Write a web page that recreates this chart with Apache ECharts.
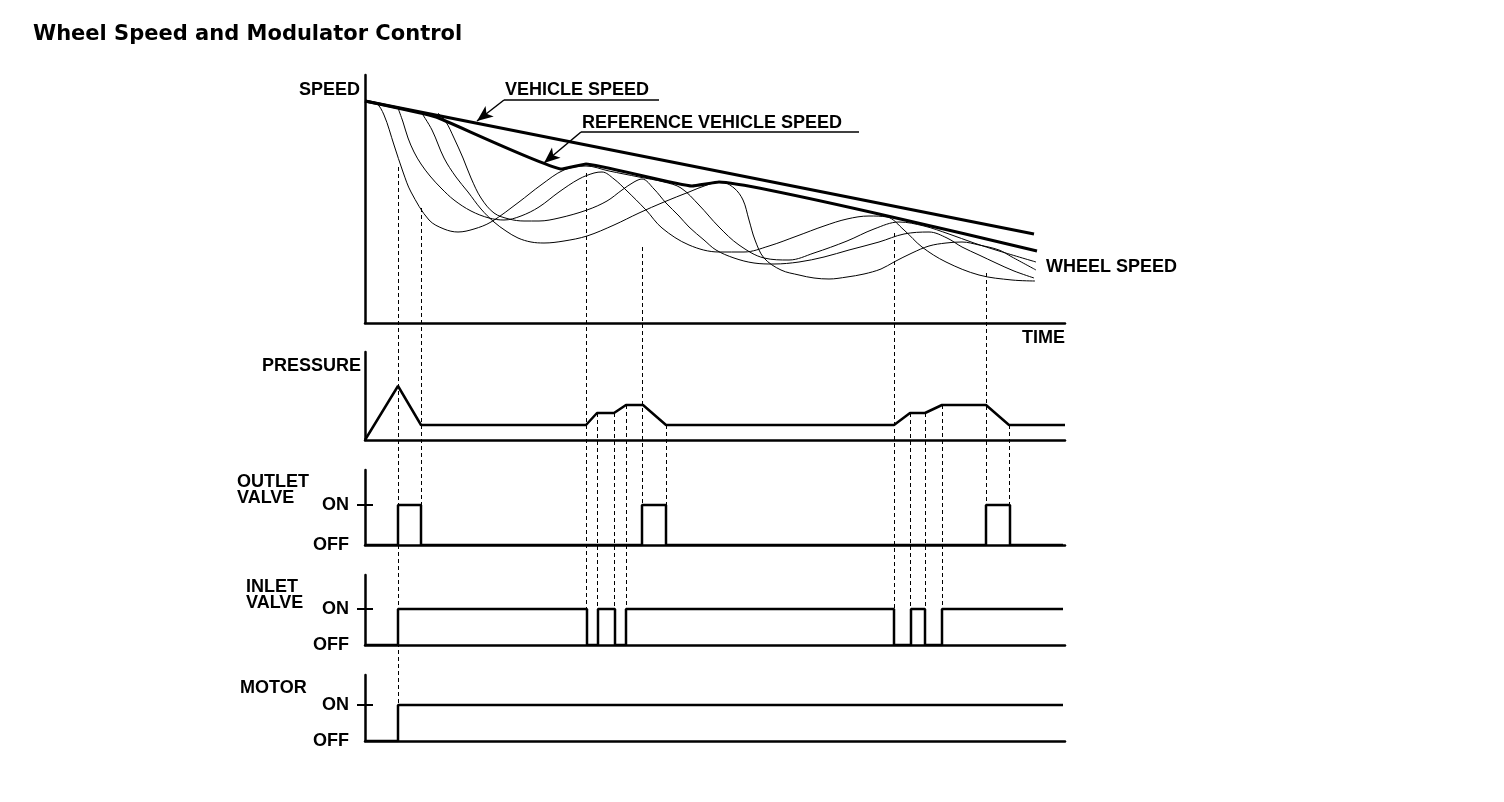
<!DOCTYPE html>
<html><head><meta charset="utf-8">
<script src="https://cdn.jsdelivr.net/npm/echarts@6/dist/echarts.min.js"></script>
<style>html,body{margin:0;padding:0;background:#fff}#c{width:1504px;height:802px}</style>
</head><body><div id="c"></div>
<script>
// time axis units (0..700), speed units (0..248)
const vehicleSpeed = [[0,222],[669,89]];
const referenceSpeed = [[0,222],[71,206],[197,154],[221,159],[327,137],[354,141],[672,72]];
const wheel1 = [[0,222],[11,220],[19,208],[29,178],[38,151],[46,131],[64,103],[79,94],[93,91],[109,94],[126,101],[154,121],[176,138],[199,153],[221,157],[244,152],[274,146],[299,141],[316,135],[334,118],[354,96],[374,78],[399,65],[424,63],[449,70],[482,82],[509,94],[534,101],[559,97],[584,89],[609,80],[634,72],[671,61]];
const wheel2 = [[33,215],[38,201],[43,185],[49,171],[56,159],[65,147],[76,135],[89,123],[106,112],[124,105],[139,103],[156,107],[174,116],[194,131],[214,144],[229,150],[237,151],[249,144],[261,133],[281,113],[297,95],[324,78],[354,71],[379,71],[404,77],[432,87],[459,97],[482,104],[504,107],[522,106],[539,93],[557,76],[581,61],[614,48],[647,43],[670,42]];
const wheel3 = [[56,211],[67,193],[79,165],[91,146],[103,131],[116,114],[129,101],[141,92],[153,85],[166,81],[179,80],[199,82],[222,87],[249,98],[274,110],[299,121],[324,131],[342,138],[356,141],[369,135],[378,123],[384,103],[390,83],[399,65],[416,53],[434,48],[449,45],[464,44],[482,46],[499,49],[516,54],[529,61],[547,70],[564,77],[581,80],[597,81],[614,78],[634,73],[647,66],[671,53]];
const wheel4 = [[73,210],[81,201],[89,185],[98,165],[106,145],[116,125],[129,110],[144,104],[159,102],[174,102],[194,105],[222,113],[242,122],[257,133],[269,141],[277,144],[289,134],[301,120],[314,107],[324,96],[339,83],[351,73],[369,65],[389,60],[409,59],[434,61],[459,66],[484,73],[514,81],[539,89],[564,91],[582,85],[597,76],[614,68],[631,60],[649,52],[669,45]];
const pressure = [[0,0],[33,54],[56,15],[221,15],[232,27],[249,27],[261,35],[278,35],[301,15],[529,15],[545,27],[560,27],[577,35],[621,35],[644,15],[700,15]];
const outletValve = [[0,0],[33,0],[33,1],[56,1],[56,0],[277,0],[277,1],[301,1],[301,0],[621,0],[621,1],[645,1],[645,0],[698,0]];
const inletValve = [[0,0],[33,0],[33,1],[222,1],[222,0],[233,0],[233,1],[250,1],[250,0],[261,0],[261,1],[529,1],[529,0],[546,0],[546,1],[560,1],[560,0],[577,0],[577,1],[698,1]];
const motorState = [[0,0],[33,0],[33,1],[698,1]];
// dashed guide lines: [time, top panel, top value, bottom panel, bottom value]
const guides = [[33,0,156,4,1],[56,0,115,2,1],[221,0,150,3,1],[232,1,27,3,1],[249,1,27,3,1],[261,1,35,3,1],[277,0,76,2,1],[301,1,15,2,1],[529,0,90,3,1],[545,1,27,3,1],[560,1,27,3,1],[577,1,35,3,1],[621,0,50,2,1],[644,1,15,2,1]];

const K = '#000';
const LBL = 'bold 18px "Liberation Sans", Arial, sans-serif';
const gridDefs = [[75,248],[352,88],[470,75],[575,70],[675,66]];
const yMax = [248, 88, 75/40, 70/36, 66/36];

const chart = echarts.init(document.getElementById('c'), null, {renderer:'canvas'});
const grids = gridDefs.map(g => ({left:365, width:700, top:g[0], height:g[1], outerBoundsMode:'none', containLabel:false}));
const xAxes = gridDefs.map((g,i) => ({type:'value', gridIndex:i, min:0, max:700,
  axisLine:{show:true, onZero:false, lineStyle:{color:K, width:2.5}}, axisTick:{show:false}, axisLabel:{show:false}, splitLine:{show:false}}));
const yAxes = gridDefs.map((g,i) => {
  const onoff = i >= 2;
  return {type:'value', gridIndex:i, min:0, max:yMax[i],
    axisLine:{show:true, onZero:false, lineStyle:{color:K, width:2.5}},
    splitLine:{show:false},
    axisTick: onoff ? {show:true, length:8, customValues:[1], lineStyle:{color:K, width:2}} : {show:false},
    axisLabel: onoff ? {show:true, customValues:[0,1], margin:16, color:K, fontFamily:'Liberation Sans', fontWeight:'bold', fontSize:18,
      formatter: v => v === 1 ? 'ON' : (v === 0 ? 'OFF' : '')} : {show:false}};
});

function ln(data, i, w, smooth){
  return {type:'line', xAxisIndex:i, yAxisIndex:i, data:data, symbol:'none', smooth:smooth||false,
    lineStyle:{color:K, width:w}, silent:true, animation:false};
}
const arrowLine = (a,b) => [{coord:a, symbol:'none'},{coord:b, symbol:'arrow', symbolSize:[10,16]}];
const plainLine = (a,b) => [{coord:a, symbol:'none'},{coord:b, symbol:'none'}];

const vehicleSeries = ln(vehicleSpeed,0,3);
vehicleSeries.markLine = {silent:true, animation:false, label:{show:false}, lineStyle:{color:K, width:1.5, type:'solid'},
  data:[arrowLine([139,223],[112,202]), plainLine([139,223],[294,223]), arrowLine([216,191],[179,160]), plainLine([216,191],[494,191])]};

const series = [
  ln(wheel1,0,1,0.35), ln(wheel2,0,1,0.35), ln(wheel3,0,1,0.35), ln(wheel4,0,1,0.35),
  vehicleSeries,
  ln(referenceSpeed,0,3,0.1),
  ln(pressure,1,2.5),
  ln(outletValve,2,2.5),
  ln(inletValve,3,2.5),
  ln(motorState,4,2.5)
];

chart.setOption({animation:false, backgroundColor:'#fff', grid:grids, xAxis:xAxes, yAxis:yAxes, series:series});

function txt(t,x,y,align,font){
  return {type:'text', x:x, y:y, silent:true, style:{text:t, font:font||LBL, fill:K, textAlign:align||'left', textVerticalAlign:'middle'}};
}
const gfx = [
  txt('Wheel Speed and Modulator Control',33,35,'left','bold 21px "DejaVu Sans", sans-serif'),
  txt('SPEED',360,90,'right'),
  txt('VEHICLE SPEED',505,90),
  txt('REFERENCE VEHICLE SPEED',582,123),
  txt('WHEEL SPEED',1046,267),
  txt('TIME',1022,338),
  txt('PRESSURE',361,366,'right'),
  txt('OUTLET',237,482), txt('VALVE',237,498),
  txt('INLET',246,587), txt('VALVE',246,603),
  txt('MOTOR',240,688)
];
guides.forEach(g => {
  const p1 = chart.convertToPixel({gridIndex:g[1]}, [g[0], g[2]]);
  const p2 = chart.convertToPixel({gridIndex:g[3]}, [g[0], g[4]]);
  const x = Math.round(p1[0]) + 0.5;
  gfx.push({type:'line', silent:true, z:-1, shape:{x1:x, y1:p1[1], x2:x, y2:p2[1]}, style:{stroke:K, lineWidth:1, lineDash:[4,3]}});
});
[2,3,4].forEach(i => {
  const p = chart.convertToPixel({gridIndex:i}, [0, 1]);
  gfx.push({type:'line', silent:true, shape:{x1:p[0], y1:p[1], x2:p[0]+8, y2:p[1]}, style:{stroke:K, lineWidth:2}});
});
chart.setOption({graphic: gfx});
</script></body></html>
